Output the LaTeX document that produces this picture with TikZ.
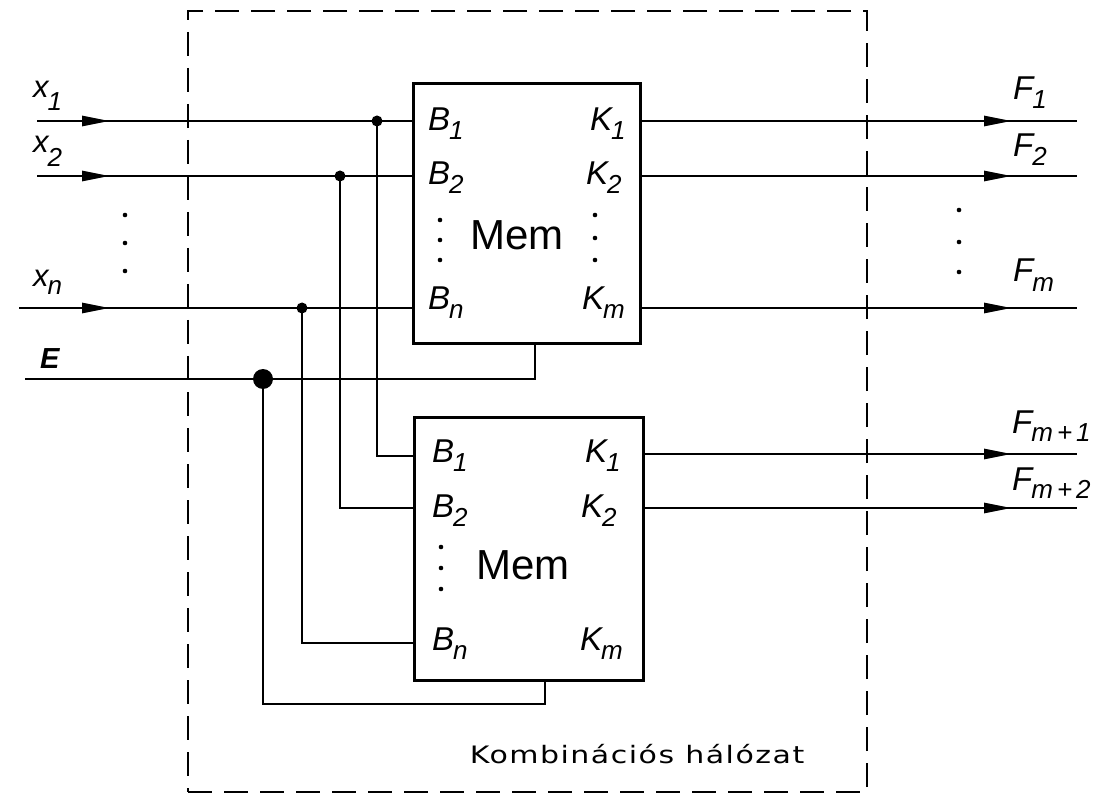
\documentclass[tikz,border=0pt]{standalone}
\usepackage{fontspec}
\setmainfont{Liberation Sans}
\newfontfamily\kfont[LetterSpace=5]{DejaVu Sans}
\usetikzlibrary{arrows.meta,decorations.markings}
\newcommand\sgn[3]{#1\kern-1pt\raisebox{-#3pt}{\fontsize{26}{26}\selectfont #2}}
\begin{document}
\begin{tikzpicture}[x=1pt,y=-1pt,
  wire/.style={line width=2.8pt},
  flow/.style={postaction={decorate},decoration={markings,
     mark=at position #1 with {\arrow{Triangle[length=28pt,width=10pt]}}}},
  membox/.style={draw,line width=3pt,inner sep=0pt},
  netbox/.style={draw,line width=2.8pt,dash pattern=on 24pt off 12pt,inner sep=0pt,
     minimum width=679pt,minimum height=781pt},
  jdot/.style={circle,fill,inner sep=0pt,minimum size=11pt},
  bigdot/.style={circle,fill,inner sep=0pt,minimum size=20pt},
  lab/.style={inner sep=0pt,anchor=base west,font=\fontsize{33}{33}\selectfont\itshape},
  xlab/.style={inner sep=0pt,anchor=base west,font=\fontsize{31}{31}\selectfont\itshape},
  memtxt/.style={inner sep=0pt,font=\fontsize{42}{42}\selectfont}]
\useasboundingbox (0,0) rectangle (1111,794);
\fill[white] (0,0) rectangle (1111,794);

% boxes
\node[netbox] (net) at (527.5,401.5) {};
\node[membox,minimum width=227pt,minimum height=259pt] (m1) at (526.5,213.5) {};
\node[membox,minimum width=229pt,minimum height=263pt] (m2) at (528.5,548.5) {};
\node[memtxt] (mt1) at (517,235) {Mem};
\node[memtxt] (mt2) at (523,565) {Mem};
\node[inner sep=0pt,anchor=base,font=\fontsize{24}{24}\kfont] (kl) at (637,763)
  {\scalebox{1.25}[1]{Kombinációs hálózat}};

% coordinates
\coordinate (in1) at (37,121);  \coordinate (p11) at (413,121);
\coordinate (in2) at (37,176);  \coordinate (p12) at (413,176);
\coordinate (inn) at (19,308);  \coordinate (p1n) at (413,308);
\coordinate (ein) at (25,379);  \coordinate (ec1) at (535,379); \coordinate (eb1) at (535,343);
\coordinate (p21) at (414,456); \coordinate (c21) at (377,456);
\coordinate (p22) at (414,508); \coordinate (c22) at (340,508);
\coordinate (p2n) at (414,643); \coordinate (c2n) at (302,643);
\coordinate (ec2) at (263,704); \coordinate (ec3) at (545,704); \coordinate (eb2) at (545,680);
\coordinate (q11) at (640,121); \coordinate (o1) at (1077,121);
\coordinate (q12) at (640,176); \coordinate (o2) at (1077,176);
\coordinate (q1m) at (640,308); \coordinate (om) at (1077,308);
\coordinate (q21) at (643,454); \coordinate (om1) at (1077,454);
\coordinate (q22) at (643,508); \coordinate (om2) at (1077,508);

% junctions
\node[jdot] (j1) at (377,121) {};
\node[jdot] (j2) at (340,176) {};
\node[jdot] (jn) at (302,308) {};
\node[bigdot] (je) at (263,379) {};

% inputs
\draw[wire,flow=73pt] (in1) -- (p11);
\draw[wire,flow=73pt] (in2) -- (p12);
\draw[wire,flow=91pt] (inn) -- (p1n);
\draw[wire] (ein) -- (ec1) -- (eb1);
\draw[wire] (j1.center) -- (c21) -- (p21);
\draw[wire] (j2.center) -- (c22) -- (p22);
\draw[wire] (jn.center) -- (c2n) -- (p2n);
\draw[wire] (je.center) -- (ec2) -- (ec3) -- (eb2);

% outputs
\draw[wire,flow=372pt] (q11) -- (o1);
\draw[wire,flow=372pt] (q12) -- (o2);
\draw[wire,flow=372pt] (q1m) -- (om);
\draw[wire,flow=369pt] (q21) -- (om1);
\draw[wire,flow=369pt] (q22) -- (om2);

% ellipsis dots
\foreach \y in {215,243,271} \fill (125,\y) circle (2.3pt);
\foreach \y in {210,242,272} \fill (959,\y) circle (2.3pt);
\foreach \y in {220,240,260} \fill (440,\y) circle (2.3pt);
\foreach \y in {215,238,260} \fill (595,\y) circle (2.3pt);
\foreach \y in {547,568,589} \fill (441,\y) circle (2.3pt);

% labels
\node[xlab] (lx1) at (33,98) {\sgn{x}{1}{13}};
\node[xlab] (lx2) at (33,153) {\sgn{x}{2}{14}};
\node[xlab] (lxn) at (33,287) {\sgn{x}{n}{8}};
\node[inner sep=0pt,anchor=base west,font=\fontsize{29}{29}\selectfont\bfseries\itshape] (lE) at (40,368) {E};

\node[lab] (b11) at (428,131) {\sgn{B}{1}{9}};
\node[lab] (b12) at (428,185) {\sgn{B}{2}{9}};
\node[lab] (b1n) at (428,310) {\sgn{B}{n}{9}};
\node[lab] (k11) at (590,131) {\sgn{K}{1}{9}};
\node[lab] (k12) at (586,185) {\sgn{K}{2}{9}};
\node[lab] (k1m) at (582,310) {\sgn{K}{m}{9}};

\node[lab] (b21) at (432,462) {\sgn{B}{1}{9}};
\node[lab] (b22) at (432,517) {\sgn{B}{2}{9}};
\node[lab] (b2n) at (432,650) {\sgn{B}{n}{9}};
\node[lab] (k21) at (585,462) {\sgn{K}{1}{9}};
\node[lab] (k22) at (581,517) {\sgn{K}{2}{9}};
\node[lab] (k2m) at (580,650) {\sgn{K}{m}{9}};

\node[lab] (f1) at (1013,100) {\sgn{F}{1}{9}};
\node[lab] (f2) at (1013,157) {\sgn{F}{2}{9}};
\node[lab] (fm) at (1013,282) {\sgn{F}{m}{10}};
\node[lab] (fm1) at (1012,433) {\sgn{F}{m\hspace{4pt}+\hspace{4pt}1}{8}};
\node[lab] (fm2) at (1012,490) {\sgn{F}{m\hspace{4pt}+\hspace{4pt}2}{8}};
\end{tikzpicture}
\end{document}
